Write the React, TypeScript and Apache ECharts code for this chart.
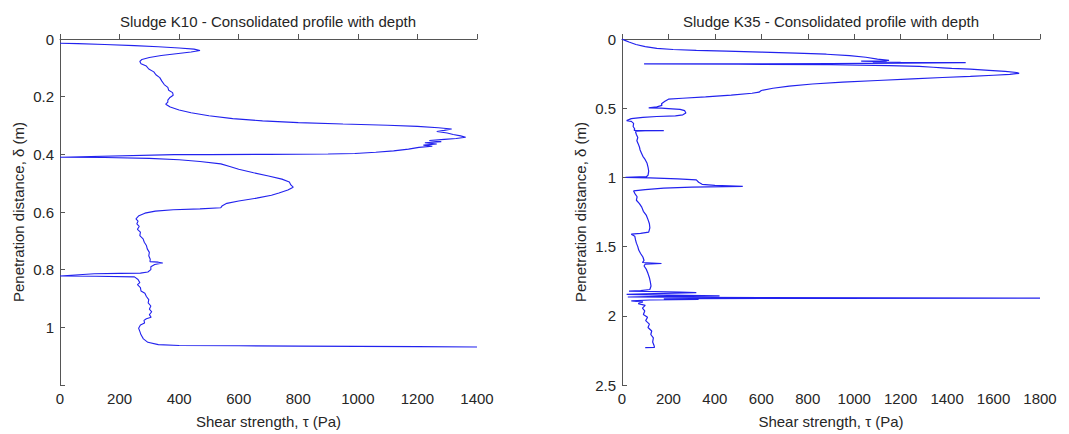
import React, { useEffect, useRef } from "react";
import * as echarts from "echarts";

const titleK10 = "Sludge K10 - Consolidated profile with depth";
const titleK35 = "Sludge K35 - Consolidated profile with depth";
const xName = "Shear strength, τ (Pa)";
const yName = "Penetration distance, δ (m)";

// Sludge K10: shear strength (Pa) and depth (m)
const k10Tau = [
  0, 60, 150, 250, 330, 400, 450, 470, 440, 390, 340, 300, 275, 268, 272, 290, 298, 315, 322, 335,
  342, 350, 362, 365, 378, 380, 368, 362, 362, 355, 370, 400, 440, 500, 580, 680, 800, 950, 1100, 1200,
  1270, 1315, 1290, 1265, 1300, 1320, 1345, 1362, 1330, 1290, 1240, 1280, 1225, 1265, 1220, 1250, 1205, 1170, 1120, 1060,
  990, 900, 700, 500, 383, 0, 150, 300, 400, 470, 540, 570, 600, 650, 700, 745, 770, 775, 783, 765,
  735, 710, 660, 600, 560, 545, 540, 470, 380, 320, 285, 265, 255, 262, 258, 266, 260, 270, 268, 279,
  283, 290, 293, 300, 298, 303, 302, 330, 345, 318, 305, 305, 295, 270, 200, 115, 0, 120, 250, 262,
  268, 260, 270, 272, 285, 290, 298, 296, 305, 300, 308, 300, 306, 290, 282, 284, 270, 264, 268, 272,
  280, 295, 330, 400, 600, 800, 1000, 1200, 1400,
];
const k10Depth = [
  0.015, 0.016, 0.019, 0.023, 0.027, 0.031, 0.035, 0.04, 0.045, 0.051, 0.057, 0.064, 0.071, 0.078, 0.086, 0.094, 0.104, 0.114, 0.124, 0.134,
  0.146, 0.158, 0.168, 0.178, 0.186, 0.195, 0.204, 0.212, 0.219, 0.226, 0.236, 0.246, 0.256, 0.266, 0.276, 0.284, 0.29, 0.295, 0.299, 0.303,
  0.308, 0.312, 0.317, 0.321, 0.326, 0.331, 0.336, 0.341, 0.345, 0.348, 0.352, 0.356, 0.36, 0.364, 0.368, 0.372, 0.376, 0.382, 0.388, 0.393,
  0.397, 0.399, 0.4, 0.401, 0.401, 0.41, 0.411, 0.414, 0.419, 0.425, 0.433, 0.442, 0.452, 0.464, 0.475, 0.486, 0.496, 0.506, 0.514, 0.524,
  0.534, 0.542, 0.552, 0.562, 0.57, 0.578, 0.585, 0.589, 0.592, 0.597, 0.604, 0.613, 0.624, 0.632, 0.641, 0.65, 0.66, 0.67, 0.682, 0.693,
  0.705, 0.716, 0.728, 0.74, 0.752, 0.764, 0.772, 0.774, 0.777, 0.782, 0.79, 0.8, 0.808, 0.812, 0.813, 0.814, 0.822, 0.823, 0.825, 0.834,
  0.845, 0.852, 0.862, 0.874, 0.882, 0.893, 0.904, 0.915, 0.926, 0.937, 0.946, 0.956, 0.965, 0.97, 0.976, 0.985, 0.992, 1.003, 1.014, 1.026,
  1.04, 1.052, 1.06, 1.063, 1.064, 1.065, 1.066, 1.067, 1.068,
];

// Sludge K35: shear strength (Pa) and depth (m)
const k35Tau = [
  0, 10, 30, 60, 100, 150, 220, 320, 450, 600, 750, 880, 980, 1050, 1100, 1150, 1030, 1140, 1080, 1200,
  1350, 1480, 1200, 900, 500, 95, 500, 900, 1150, 1280, 1340, 1380, 1420, 1500, 1580, 1650, 1700, 1710, 1670, 1600,
  1500, 1380, 1250, 1100, 950, 820, 720, 650, 600, 590, 560, 470, 360, 260, 200, 185, 170, 172, 150, 115,
  170, 200, 250, 270, 275, 262, 230, 150, 90, 40, 20, 40, 50, 48, 55, 52, 180, 100, 58, 62,
  68, 64, 70, 75, 78, 84, 90, 100, 108, 112, 115, 112, 105, 15, 120, 240, 320, 330, 345, 400,
  520, 300, 180, 100, 50, 55, 65, 62, 75, 85, 92, 105, 112, 118, 120, 115, 80, 40, 55, 58,
  62, 68, 72, 80, 90, 95, 88, 170, 100, 95, 105, 112, 118, 122, 125, 120, 80, 30, 250, 320,
  180, 20, 200, 420, 160, 25, 600, 1800, 900, 300, 180, 330, 120, 40, 90, 70, 100, 88, 98, 92,
  110, 102, 118, 112, 128, 124, 135, 132, 138, 140, 100,
];
const k35Depth = [
  0, 0.008, 0.022, 0.04, 0.055, 0.068, 0.076, 0.082, 0.088, 0.095, 0.102, 0.11, 0.12, 0.132, 0.145, 0.155, 0.16, 0.163, 0.166, 0.168,
  0.17, 0.171, 0.175, 0.178, 0.179, 0.18, 0.182, 0.186, 0.192, 0.198, 0.204, 0.208, 0.212, 0.218, 0.226, 0.234, 0.242, 0.248, 0.256, 0.262,
  0.27, 0.278, 0.288, 0.3, 0.312, 0.325, 0.34, 0.356, 0.372, 0.384, 0.392, 0.405, 0.418, 0.428, 0.435, 0.45, 0.468, 0.48, 0.49, 0.497,
  0.5, 0.503, 0.508, 0.518, 0.535, 0.548, 0.555, 0.56, 0.566, 0.575, 0.59, 0.595, 0.61, 0.632, 0.65, 0.66, 0.662, 0.664, 0.668, 0.69,
  0.712, 0.735, 0.758, 0.78, 0.802, 0.825, 0.848, 0.872, 0.898, 0.925, 0.955, 0.985, 0.995, 1.0, 1.004, 1.01, 1.018, 1.035, 1.05, 1.058,
  1.065, 1.07, 1.078, 1.088, 1.098, 1.115, 1.14, 1.165, 1.19, 1.215, 1.245, 1.275, 1.305, 1.335, 1.365, 1.395, 1.405, 1.41, 1.425, 1.45,
  1.475, 1.5, 1.525, 1.55, 1.575, 1.6, 1.615, 1.622, 1.626, 1.64, 1.665, 1.695, 1.725, 1.755, 1.785, 1.81, 1.818, 1.822, 1.828, 1.832,
  1.838, 1.845, 1.85, 1.856, 1.86, 1.864, 1.868, 1.872, 1.874, 1.876, 1.878, 1.882, 1.886, 1.892, 1.9, 1.912, 1.925, 1.945, 1.965, 1.99,
  2.01, 2.035, 2.06, 2.085, 2.11, 2.135, 2.16, 2.19, 2.215, 2.228, 2.23,
];

const FONT = "'Liberation Sans', Arial, sans-serif";
const TEXT = "#262626";
const AXIS = "#555555";
const LINE = "#2222ee";

function fmt(v: number, hideAbove?: number) {
  if (hideAbove !== undefined && v > hideAbove) return "";
  return String(Number(v.toFixed(2)));
}

function xAxisOf(gridIndex: number, max: number) {
  return {
    type: "value",
    gridIndex,
    min: 0,
    max,
    interval: 200,
    name: xName,
    nameLocation: "middle",
    nameGap: 29,
    nameTextStyle: { fontFamily: FONT, fontSize: 15, color: TEXT },
    axisLine: { show: true, lineStyle: { color: AXIS, width: 1 } },
    axisTick: { show: true, inside: true, length: 5, lineStyle: { color: AXIS } },
    axisLabel: { fontFamily: FONT, fontSize: 15, color: TEXT, margin: 6, formatter: (v: number) => fmt(v) },
    splitLine: { show: false },
  };
}

function yAxisOf(gridIndex: number, max: number, interval: number, hideAbove?: number) {
  return {
    type: "value",
    gridIndex,
    inverse: true,
    min: 0,
    max,
    interval,
    name: yName,
    nameLocation: "middle",
    nameGap: 34,
    nameRotate: 90,
    nameTextStyle: { fontFamily: FONT, fontSize: 15, color: TEXT },
    axisLine: { show: true, lineStyle: { color: AXIS, width: 1 } },
    axisTick: { show: true, inside: true, length: 5, lineStyle: { color: AXIS } },
    axisLabel: { fontFamily: FONT, fontSize: 15, color: TEXT, margin: 6, formatter: (v: number) => fmt(v, hideAbove) },
    splitLine: { show: false },
  };
}

export default function App() {
  const ref = useRef<HTMLDivElement>(null);
  useEffect(() => {
    if (!ref.current) return;
    const chart = echarts.init(ref.current, undefined, { renderer: "svg" });
    const k10Data = k10Tau.map((t, i) => [t, k10Depth[i]]);
    const k35Data = k35Tau.map((t, i) => [t, k35Depth[i]]);
    chart.setOption({
      animation: false,
      backgroundColor: "#ffffff",
      title: [
        {
          text: titleK10,
          left: 268,
          top: 14,
          padding: 0,
          textAlign: "center",
          textStyle: { fontFamily: FONT, fontSize: 15, fontWeight: "normal", color: TEXT },
        },
        {
          text: titleK35,
          left: 831,
          top: 14,
          padding: 0,
          textAlign: "center",
          textStyle: { fontFamily: FONT, fontSize: 15, fontWeight: "normal", color: TEXT },
        },
      ],
      grid: [
        { left: 60, top: 39, width: 417, height: 351 },
        { left: 622, top: 39, width: 418, height: 351 },
      ],
      xAxis: [xAxisOf(0, 1400), xAxisOf(1, 1800)],
      yAxis: [yAxisOf(0, 1.2, 0.2, 1.1), yAxisOf(1, 2.5, 0.5)],
      series: [
        {
          type: "line",
          xAxisIndex: 0,
          yAxisIndex: 0,
          data: k10Data,
          showSymbol: false,
          symbol: "none",
          lineStyle: { color: LINE, width: 1.1 },
        },
        {
          type: "line",
          xAxisIndex: 1,
          yAxisIndex: 1,
          data: k35Data,
          showSymbol: false,
          symbol: "none",
          lineStyle: { color: LINE, width: 1.2 },
        },
      ],
    });
    return () => chart.dispose();
  }, []);
  return (
    <div
      ref={ref}
      style={{ position: "fixed", left: 0, top: 0, width: 1069, height: 434, background: "#fff" }}
    />
  );
}
